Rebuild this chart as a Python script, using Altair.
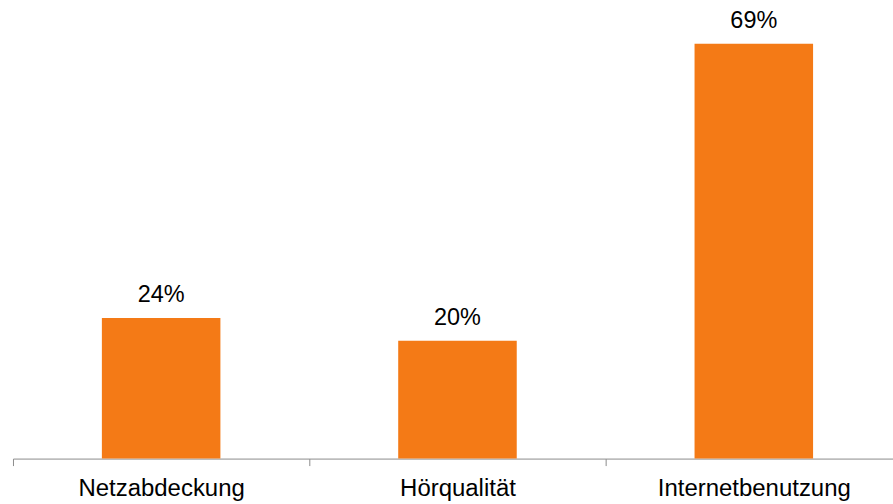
import altair as alt
import pandas as pd

categories = ["Netzabdeckung", "Hörqualität", "Internetbenutzung"]
values = [23.5, 19.7, 69.3]
labels = ["24%", "20%", "69%"]

df = pd.DataFrame({"cat": categories, "val": values, "lab": labels})

x = alt.X("cat:N", sort=categories, title=None,
          scale=alt.Scale(paddingInner=0, paddingOuter=0),
          axis=alt.Axis(labelAngle=0, tickBand="extent", domainColor="#8c8c8c",
                        tickColor="#8c8c8c", tickSize=7, labelFont="Liberation Sans",
                        labelFontSize=24, labelColor="#000000", labelPadding=11,
                        labelLimit=400, grid=False))
y = alt.Y("val:Q", scale=alt.Scale(domain=[0, 76.5], nice=False), axis=None)

bars = alt.Chart(df).mark_bar(color="#F47A16", width=alt.RelativeBandSize(0.4)).encode(x=x, y=y)
text = alt.Chart(df).mark_text(font="Liberation Sans", fontSize=23.5, color="#000000",
                               baseline="alphabetic", dy=-16).encode(x=x, y=y, text="lab:N")

chart = (bars + text).properties(
    width=891, height=459, background="white",
    padding={"left": 12, "right": -10, "top": 0, "bottom": 45},
).configure_view(stroke=None)

chart.save("out.html", embed_options={"renderer": "svg", "actions": False})
